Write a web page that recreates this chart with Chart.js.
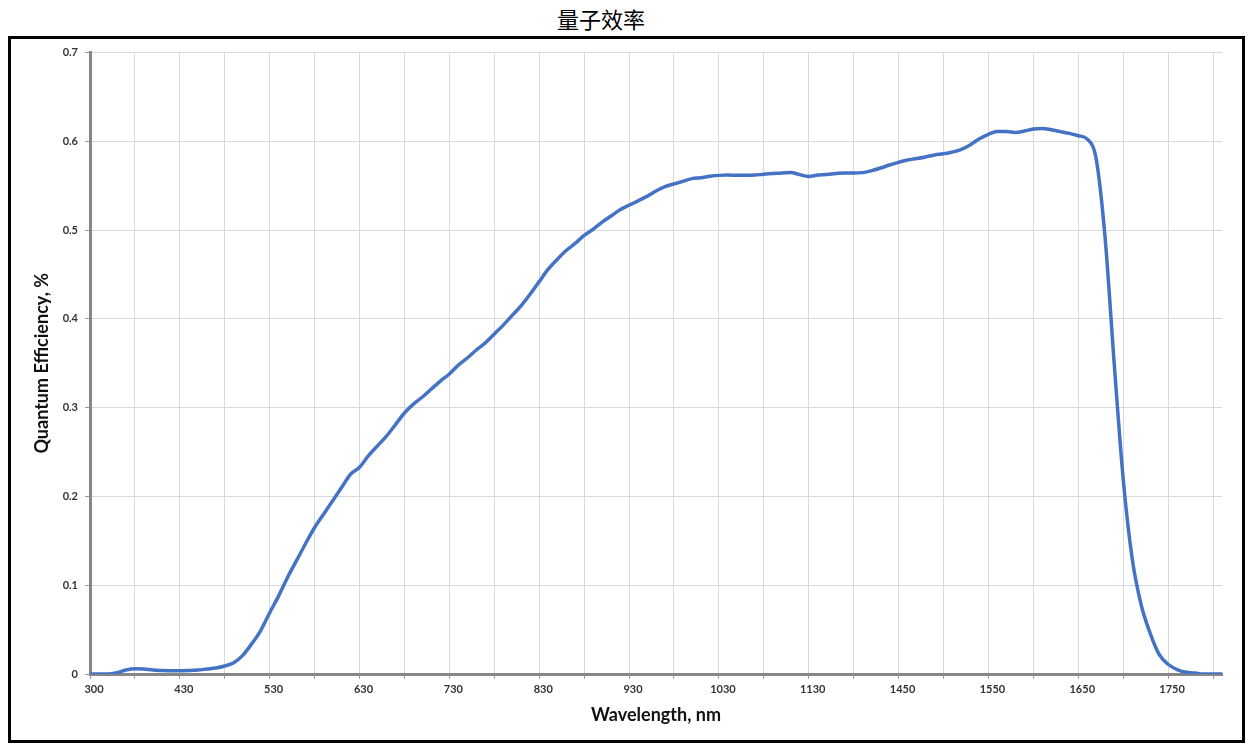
<!DOCTYPE html>
<html>
<head>
<meta charset="utf-8">
<script src="https://cdn.jsdelivr.net/npm/chart.js@4/dist/chart.umd.min.js"></script>
<style>
  body { margin: 0; background: #fff; width: 1254px; height: 749px; position: relative; overflow: hidden; }
  #title { position: absolute; left: 501px; top: 2px; width: 200px; text-align: center;
           font-family: "Noto Sans CJK SC", sans-serif; font-size: 22px; color: #000; }
  #frame { position: absolute; left: 8px; top: 36px; width: 1231px; height: 701px; border: 3px solid #000; }
</style>
</head>
<body>
<div id="title">量子效率</div>
<div id="frame"><canvas id="qeChart"></canvas></div>
<script>
// wavelength categories (nm)
const wavelengths = [
  300, 313, 326, 339, 352, 365, 378, 391, 404, 417,
  430, 440, 450, 460, 470, 480, 490, 500, 510, 520,
  530, 540, 550, 560, 570, 580, 590, 600, 610, 620,
  630, 640, 650, 660, 670, 680, 690, 700, 710, 720,
  730, 740, 750, 760, 770, 780, 790, 800, 810, 820,
  830, 840, 850, 860, 870, 880, 890, 900, 910, 920,
  930, 940, 950, 960, 970, 980, 990, 1000, 1010, 1020,
  1030, 1040, 1050, 1060, 1070, 1080, 1090, 1100, 1110, 1120,
  1130, 1162, 1194, 1226, 1258, 1290, 1322, 1354, 1386, 1418,
  1450, 1460, 1470, 1480, 1490, 1500, 1510, 1520, 1530, 1540,
  1550, 1560, 1570, 1580, 1590, 1600, 1610, 1620, 1630, 1640,
  1650, 1660, 1670, 1680, 1690, 1700, 1710, 1720, 1730, 1740,
  1750, 1760, 1770, 1780, 1790, 1800, 1810
];

// quantum efficiency
const efficiency = [
  0, 0, 0, 0.0015, 0.0045, 0.006, 0.0056, 0.0045, 0.004, 0.0037,
  0.0037, 0.004, 0.0045, 0.0056, 0.0067, 0.009, 0.0127, 0.021, 0.034, 0.049,
  0.069, 0.088, 0.109, 0.128, 0.147, 0.165, 0.180, 0.195, 0.210, 0.225,
  0.233, 0.246, 0.257, 0.268, 0.281, 0.294, 0.304, 0.312, 0.321, 0.330,
  0.338, 0.348, 0.356, 0.365, 0.373, 0.383, 0.393, 0.404, 0.415, 0.428,
  0.442, 0.456, 0.467, 0.477, 0.485, 0.494, 0.501, 0.509, 0.516, 0.523,
  0.528, 0.533, 0.538, 0.544, 0.549, 0.552, 0.555, 0.558, 0.559, 0.5606,
  0.5617, 0.562, 0.5617, 0.5617, 0.562, 0.563, 0.5637, 0.5645, 0.5648, 0.5625,
  0.5605, 0.562, 0.5626, 0.5637, 0.5645, 0.5645, 0.5648, 0.567, 0.570, 0.5734,
  0.5764, 0.579, 0.5806, 0.5824, 0.5847, 0.586, 0.588, 0.591, 0.5963, 0.603,
  0.608, 0.611, 0.611, 0.610, 0.6116, 0.614, 0.6146, 0.613, 0.611, 0.609,
  0.6064, 0.6026, 0.58, 0.49, 0.35, 0.22, 0.13, 0.078, 0.046, 0.022,
  0.011, 0.005, 0.002, 0.001, 0, 0, 0
];

const yTicks = [0, 0.1, 0.2, 0.3, 0.4, 0.5, 0.6, 0.7];

const axisFont = { family: 'Lato, "Open Sans", sans-serif', size: 11, weight: 'bold' };
const titleFont = { family: 'Lato, "Open Sans", sans-serif', size: 18, weight: 'bold' };

const ctx = document.getElementById('qeChart').getContext('2d');
new Chart(ctx, {
    type: 'line',
    data: {
        labels: wavelengths,
        datasets: [{
            label: 'Quantum Efficiency',
            data: efficiency,
            borderColor: '#4472c4',
            borderWidth: 3.5,
            pointRadius: 0,
            cubicInterpolationMode: 'monotone',
            fill: false
        }]
    },
    options: {
        responsive: true,
        maintainAspectRatio: false,
        animation: false,
        layout: { padding: { top: 11, right: 20, left: 0, bottom: 0 } },
        plugins: { legend: { display: false }, tooltip: { enabled: false } },
        scales: {
            x: {
                type: 'category',
                offset: false,
                border: { color: '#868686', width: 3 },
                grid: {
                    color: c => c.index % 5 === 0 ? '#d9d9d9' : 'rgba(0,0,0,0)',
                    tickColor: c => c.index % 5 === 0 ? '#9a9a9a' : 'rgba(0,0,0,0)',
                    tickLength: 5
                },
                ticks: {
                    autoSkip: false,
                    maxRotation: 0,
                    minRotation: 0,
                    padding: 4,
                    labelOffset: 4,
                    color: '#333',
                    font: axisFont,
                    callback: (v, i) => i % 10 === 0 ? String(wavelengths[i]) : ''
                },
                title: {
                    display: true,
                    text: 'Wavelength, nm',
                    color: '#111',
                    font: titleFont,
                    padding: { top: 0, bottom: 14 }
                },
                afterFit: s => { s.height = 66; }
            },
            y: {
                min: 0,
                max: 0.7,
                border: { color: '#868686', width: 3 },
                grid: { color: '#d9d9d9', tickColor: '#9a9a9a', tickLength: 5 },
                afterBuildTicks: s => { s.ticks = yTicks.map(v => ({ value: v })); },
                ticks: {
                    padding: 7,
                    color: '#333',
                    font: axisFont,
                    callback: v => v === 0 ? '0' : v.toFixed(1)
                },
                title: {
                    display: true,
                    text: 'Quantum Efficiency, %',
                    color: '#111',
                    font: titleFont,
                    padding: { top: 20, bottom: 0 }
                },
                afterFit: s => { s.width = 79; }
            }
        }
    }
});
</script>
</body>
</html>
